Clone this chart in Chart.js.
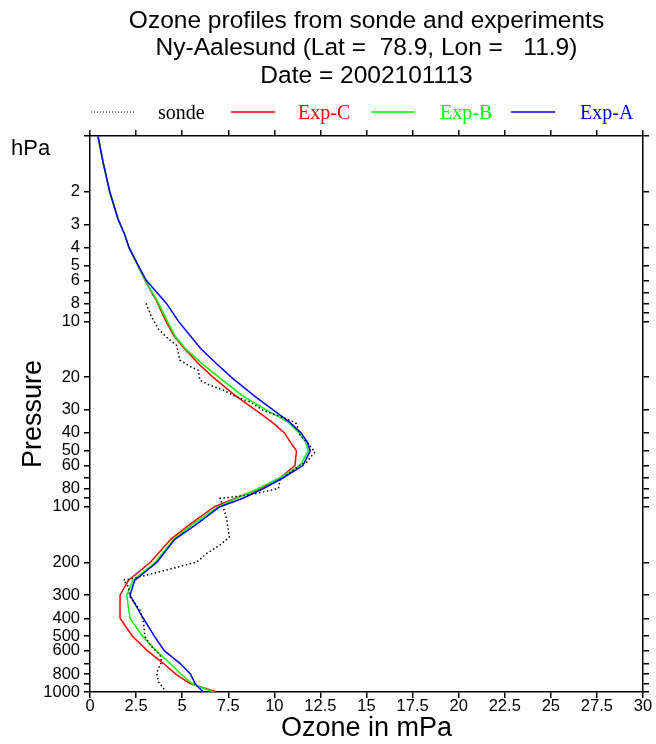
<!DOCTYPE html>
<html>
<head>
<meta charset="utf-8">
<script src="https://cdn.jsdelivr.net/npm/chart.js@4.4.1/dist/chart.umd.min.js"></script>
<style>
html,body{margin:0;padding:0;background:#ffffff;}
#wrap{width:656px;height:744px;position:relative;}
canvas{display:block;}
</style>
</head>
<body>
<div id="wrap"><canvas id="c" width="656" height="744"></canvas></div>
<script>
// ---------- data ----------
const titleLines = [
  'Ozone profiles from sonde and experiments',
  'Ny-Aalesund (Lat =  78.9, Lon =   11.9)',
  'Date = 2002101113'
];
const seriesNames = ['sonde', 'Exp-C', 'Exp-B', 'Exp-A'];
const seriesColors = ['#000000', '#ff0000', '#00ff00', '#0000ff'];
const xAxisTitle = 'Ozone in mPa';
const yAxisTitle = 'Pressure';
const yUnitLabel = 'hPa';

const xTickValues = [0, 2.5, 5, 7.5, 10, 12.5, 15, 17.5, 20, 22.5, 25, 27.5, 30];
const xTickLabels = ['0', '2.5', '5', '7.5', '10', '12.5', '15', '17.5', '20', '22.5', '25', '27.5', '30'];
const yTickValues = [1, 2, 3, 4, 5, 6, 7, 8, 9, 10, 20, 30, 40, 50, 60, 70, 80, 90, 100,
                     200, 300, 400, 500, 600, 700, 800, 900, 1000];
const yTickLabels = ['', '2', '3', '4', '5', '6', '', '8', '', '10', '20', '30', '40', '50', '60', '', '80', '', '100',
                     '200', '300', '400', '500', '600', '', '800', '', '1000'];

// model levels (hPa)
const modelPressure = [1, 1.4, 2, 2.8, 3.4, 4, 5, 6, 8, 10, 12, 14, 17, 20, 25, 30, 35, 40, 45, 50,
                       60, 70, 80, 90, 100, 125, 150, 200, 250, 300, 400, 500, 600, 700, 800, 900, 925, 1000];
const expA = [0.43, 0.72, 1.07, 1.52, 1.88, 2.12, 2.62, 3.05, 4.15, 4.8, 5.45, 6.0, 6.88, 7.66, 8.86, 9.93, 10.83, 11.45, 11.8, 11.95,
              11.55, 10.46, 9.38, 8.3, 7.05, 5.75, 4.6, 3.62, 2.42, 2.17, 2.89, 3.49, 4.04, 4.88, 5.45, 5.7, 5.8, 6.15];
const expB = [0.43, 0.72, 1.07, 1.52, 1.88, 2.12, 2.6, 3.0, 3.72, 4.2, 4.62, 5.17, 6.11, 6.98, 8.23, 9.55, 10.75, 11.35, 11.7, 11.85,
              11.4, 10.28, 9.12, 7.97, 6.96, 5.55, 4.55, 3.53, 2.33, 1.99, 2.17, 2.85, 3.6, 4.34, 4.92, 5.55, 5.8, 6.69];
const expC = [0.43, 0.72, 1.07, 1.52, 1.88, 2.12, 2.6, 2.98, 3.68, 4.12, 4.57, 5.12, 5.9, 6.67, 7.85, 8.97, 9.88, 10.55, 10.88, 11.2,
              11.12, 10.3, 9.2, 7.9, 6.75, 5.4, 4.38, 3.26, 2.08, 1.63, 1.63, 2.3, 3.12, 3.98, 4.65, 5.43, 5.8, 6.87];

// sonde
const sondePressure = [8.0, 9.5, 11, 12.2, 13.5, 16.2, 17.3, 18.4, 20.8, 22.1, 23.5, 25.6, 27.2, 30.2, 32.1, 34.2, 35.6,
                       41, 44.8, 50.7, 57.3, 59.7, 71.9, 79.8, 83.2, 86.7, 90.3, 100, 118, 146, 161, 179, 199, 215,
                       234, 244, 249, 270, 306, 362, 409, 503, 570, 631, 687, 745, 793, 880, 955, 1000];
const sondeOzone = [3.04, 3.35, 3.71, 4.16, 4.70, 4.88, 5.34, 5.88, 5.97, 6.5, 7.23, 7.96, 8.68, 9.40, 10.13, 10.85, 11.2,
                    11.39, 11.76, 12.2, 11.76, 11.39, 10.31, 10.22, 9.4, 8.5, 7.05, 7.23, 7.42, 7.56, 7.05, 6.33, 5.79, 4.52,
                    3.07, 2.35, 1.81, 2.08, 2.17, 2.71, 2.89, 2.98, 3.35, 3.80, 3.89, 3.71, 3.62, 3.71, 3.98, 4.16];

// ---------- build ----------
const SANS = '"Liberation Sans", Arial, Helvetica, sans-serif';
const SERIF = '"Liberation Serif", "Times New Roman", serif';

function toPoints(values, pressures) {
  return values.map((v, i) => ({ x: v, y: pressures[i] }));
}

const datasets = [
  { label: seriesNames[0], data: toPoints(sondeOzone, sondePressure), borderColor: seriesColors[0],
    borderWidth: 1.5, borderDash: [1.5, 2.5], order: 0 },
  { label: seriesNames[1], data: toPoints(expC, modelPressure), borderColor: seriesColors[1], borderWidth: 1.5, order: 3 },
  { label: seriesNames[2], data: toPoints(expB, modelPressure), borderColor: seriesColors[2], borderWidth: 1.5, order: 2 },
  { label: seriesNames[3], data: toPoints(expA, modelPressure), borderColor: seriesColors[3], borderWidth: 1.5, order: 1 }
].map(d => Object.assign(d, { showLine: true, pointRadius: 0, pointHoverRadius: 0, fill: false,
                             tension: 0, xAxisID: 'x', yAxisID: 'y', backgroundColor: d.borderColor }));

const gridOpts = { drawOnChartArea: false, drawTicks: true, tickLength: 6, color: '#000', lineWidth: 1.5 };
const borderOpts = { display: true, color: '#000', width: 1.5 };

function setXTicks(s) { s.ticks = xTickValues.map(v => ({ value: v })); }
function setYTicks(s) { s.ticks = yTickValues.map(v => ({ value: v })); }

// legend + unit label drawn relative to the chart area
const refDecor = {
  id: 'refDecor',
  afterDraw(chart) {
    const ctx = chart.ctx, a = chart.chartArea;
    ctx.save();
    ctx.fillStyle = '#000';
    ctx.font = '22px ' + SANS;
    ctx.textAlign = 'left';
    ctx.textBaseline = 'middle';
    ctx.fillText(yUnitLabel, 11, a.top + 13);

    const legendOrder = [0, 1, 2, 3];
    const lineY = a.top - 24;
    legendOrder.forEach((di, k) => {
      const ds = chart.data.datasets[di];
      const x0 = a.left + 1 + k * 140;
      ctx.beginPath();
      ctx.strokeStyle = ds.borderColor;
      ctx.lineWidth = di === 0 ? 1 : 1.5;
      ctx.setLineDash(di === 0 ? [1, 2] : []);
      ctx.moveTo(x0, lineY);
      ctx.lineTo(x0 + 44, lineY);
      ctx.stroke();
      ctx.setLineDash([]);
      ctx.fillStyle = ds.borderColor;
      ctx.font = '20px ' + SERIF;
      ctx.textBaseline = 'alphabetic';
      ctx.fillText(ds.label, x0 + 67 + (k >= 2 ? 2 : 0), lineY + 7);
    });
    ctx.restore();
  }
};

new Chart(document.getElementById('c'), {
  type: 'scatter',
  data: { datasets },
  plugins: [refDecor],
  options: {
    responsive: false,
    animation: false,
    events: [],
    devicePixelRatio: 1,
    layout: { padding: 0 },
    plugins: {
      legend: { display: false },
      tooltip: { enabled: false },
      title: {
        display: true, text: titleLines, fullSize: false, color: '#000',
        font: { family: SANS, size: 24.5, weight: 'normal', lineHeight: 1.13 },
        padding: { top: 7, bottom: 40 }
      }
    },
    scales: {
      x: {
        type: 'linear', position: 'bottom', min: 0, max: 30,
        afterBuildTicks: setXTicks,
        afterFit: s => { s.height = 52; },
        ticks: { autoSkip: false, maxRotation: 0, color: '#000', padding: -1,
                 font: { family: SANS, size: 16.5 },
                 callback: v => xTickLabels[xTickValues.indexOf(v)] },
        grid: gridOpts, border: borderOpts,
        title: { display: true, text: xAxisTitle, color: '#000',
                 font: { family: SANS, size: 27, lineHeight: 1.1 }, padding: { top: 0, bottom: 1 } }
      },
      x2: {
        type: 'linear', position: 'top', min: 0, max: 30,
        afterBuildTicks: setXTicks,
        afterFit: s => { s.height = 6; },
        ticks: { display: false },
        grid: gridOpts, border: borderOpts
      },
      y: {
        type: 'logarithmic', position: 'left', reverse: true, min: 1, max: 1000,
        afterBuildTicks: setYTicks,
        afterFit: s => { s.width = 90; },
        ticks: { autoSkip: false, color: '#000', padding: 4,
                 font: { family: SANS, size: 16.5 },
                 callback: v => { const i = yTickValues.indexOf(v); return i < 0 ? '' : yTickLabels[i]; } },
        grid: gridOpts, border: borderOpts,
        title: { display: true, text: yAxisTitle, color: '#000',
                 font: { family: SANS, size: 27, lineHeight: 1.2 }, padding: { top: 17, bottom: 0 } }
      },
      y2: {
        type: 'logarithmic', position: 'right', reverse: true, min: 1, max: 1000,
        afterBuildTicks: setYTicks,
        afterFit: s => { s.width = 13; },
        ticks: { display: false },
        grid: gridOpts, border: borderOpts
      }
    }
  }
});
</script>
</body>
</html>
